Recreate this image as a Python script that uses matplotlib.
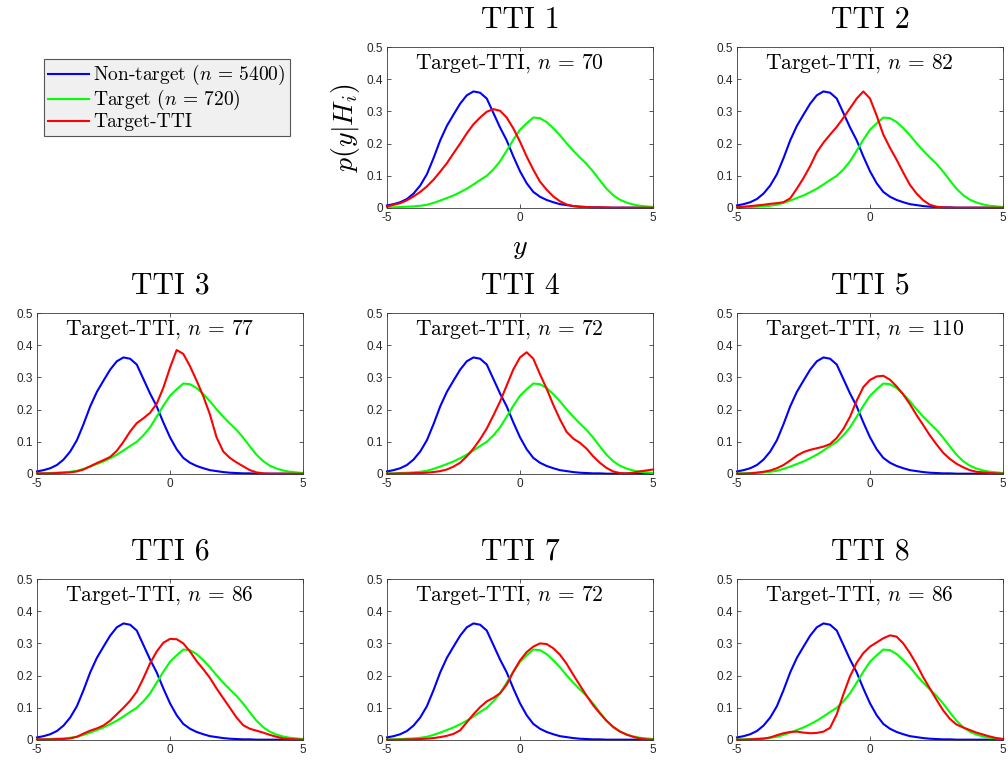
import numpy as np
import matplotlib
matplotlib.use("Agg")
import matplotlib.pyplot as plt
from matplotlib.lines import Line2D

plt.rcParams["mathtext.fontset"] = "cm"
plt.rcParams["font.family"] = ["Liberation Sans", "DejaVu Sans"]
plt.rcParams["axes.unicode_minus"] = False

# classifier output grid
y_grid = np.linspace(-5, 5, 41)

nontarget = [0.008, 0.012, 0.018, 0.028, 0.045, 0.07, 0.105, 0.155, 0.21, 0.255,
             0.29, 0.324, 0.35, 0.362, 0.358, 0.34, 0.295, 0.25, 0.21, 0.16,
             0.114, 0.077, 0.05, 0.035, 0.025, 0.018, 0.012, 0.009, 0.006, 0.004,
             0.003, 0.002, 0.002, 0.001, 0.001, 0.001, 0.001, 0.001, 0.001, 0.001, 0.001]

target = [0.002, 0.002, 0.003, 0.004, 0.005, 0.007, 0.01, 0.016, 0.023, 0.031,
          0.039, 0.049, 0.06, 0.073, 0.087, 0.1, 0.12, 0.145, 0.178, 0.212,
          0.243, 0.263, 0.281, 0.279, 0.267, 0.248, 0.226, 0.201, 0.178, 0.157,
          0.137, 0.113, 0.086, 0.06, 0.04, 0.026, 0.017, 0.011, 0.007, 0.005, 0.003]

tti1 = [0.005, 0.01, 0.015, 0.024, 0.036, 0.05, 0.067, 0.088, 0.113, 0.139,
        0.17, 0.2, 0.232, 0.26, 0.281, 0.299, 0.307, 0.302, 0.281, 0.247,
        0.206, 0.16, 0.119, 0.082, 0.057, 0.036, 0.021, 0.011, 0.006, 0.004,
        0.003, 0.002, 0.002, 0.002, 0.001, 0.001, 0.001, 0.001, 0.001, 0.001, 0.001]

tti2 = [0.002, 0.004, 0.006, 0.008, 0.01, 0.013, 0.015, 0.018, 0.03, 0.06,
        0.093, 0.13, 0.173, 0.203, 0.228, 0.252, 0.28, 0.31, 0.34, 0.362,
        0.34, 0.287, 0.228, 0.187, 0.15, 0.11, 0.072, 0.045, 0.024, 0.01,
        0.004, 0.002, 0.001, 0.001, 0.001, 0.001, 0.001, 0.001, 0.001, 0.001, 0.001]

tti3 = [0.002, 0.002, 0.002, 0.003, 0.004, 0.005, 0.008, 0.014, 0.024, 0.034,
        0.043, 0.053, 0.072, 0.1, 0.132, 0.158, 0.173, 0.19, 0.218, 0.268,
        0.33, 0.385, 0.373, 0.335, 0.29, 0.242, 0.185, 0.114, 0.07, 0.05,
        0.036, 0.024, 0.012, 0.005, 0.002, 0.001, 0.001, 0.001, 0.001, 0.001, 0.001]

tti4 = [0.001, 0.001, 0.002, 0.002, 0.003, 0.003, 0.004, 0.006, 0.009, 0.014,
        0.023, 0.035, 0.055, 0.079, 0.108, 0.141, 0.182, 0.225, 0.275, 0.325,
        0.362, 0.378, 0.358, 0.31, 0.265, 0.215, 0.17, 0.131, 0.11, 0.097,
        0.079, 0.055, 0.035, 0.019, 0.008, 0.003, 0.002, 0.004, 0.008, 0.011, 0.014]

tti5 = [0.001, 0.001, 0.002, 0.004, 0.007, 0.011, 0.018, 0.028, 0.042, 0.057,
        0.068, 0.075, 0.08, 0.085, 0.093, 0.112, 0.14, 0.178, 0.228, 0.27,
        0.292, 0.303, 0.305, 0.293, 0.272, 0.247, 0.217, 0.183, 0.152, 0.12,
        0.092, 0.066, 0.047, 0.032, 0.021, 0.012, 0.007, 0.005, 0.003, 0.002, 0.001]

tti6 = [0.002, 0.002, 0.002, 0.003, 0.003, 0.005, 0.01, 0.02, 0.029, 0.036,
        0.045, 0.06, 0.08, 0.1, 0.122, 0.15, 0.192, 0.238, 0.275, 0.302,
        0.314, 0.313, 0.3, 0.275, 0.245, 0.22, 0.193, 0.16, 0.13, 0.1,
        0.07, 0.046, 0.035, 0.029, 0.023, 0.016, 0.01, 0.005, 0.003, 0.002, 0.001]

tti7 = [0.001, 0.001, 0.001, 0.002, 0.002, 0.003, 0.004, 0.006, 0.009, 0.013,
        0.019, 0.03, 0.055, 0.08, 0.102, 0.12, 0.131, 0.145, 0.172, 0.212,
        0.247, 0.273, 0.29, 0.3, 0.298, 0.285, 0.265, 0.237, 0.203, 0.17,
        0.138, 0.108, 0.083, 0.06, 0.041, 0.027, 0.017, 0.01, 0.005, 0.002, 0.001]

tti8 = [0.001, 0.001, 0.002, 0.003, 0.004, 0.008, 0.015, 0.021, 0.025, 0.026,
        0.023, 0.021, 0.022, 0.026, 0.038, 0.08, 0.142, 0.198, 0.24, 0.27,
        0.29, 0.303, 0.316, 0.325, 0.321, 0.3, 0.27, 0.235, 0.195, 0.16,
        0.125, 0.092, 0.066, 0.048, 0.039, 0.031, 0.023, 0.017, 0.011, 0.006, 0.003]

tti_curves = [tti1, tti2, tti3, tti4, tti5, tti6, tti7, tti8]
tti_counts = [70, 82, 77, 72, 110, 86, 72, 86]
n_nontarget = 5400
n_target = 720

W, H = 1008, 761
fig = plt.figure(figsize=(W / 100, H / 100), dpi=100)

col_left = [37, 387, 737]
row_bottom = [208, 474, 740]
ax_w, ax_h = 266, 161

# panel slots: skip top-left (legend lives there)
slots = [(0, 1), (0, 2), (1, 0), (1, 1), (1, 2), (2, 0), (2, 1), (2, 2)]
axes_col = "#3a3a3a"

for k, (r, c) in enumerate(slots):
    ax = fig.add_axes([col_left[c] / W, (H - row_bottom[r]) / H, ax_w / W, ax_h / H])
    ax.plot(y_grid, nontarget, color=(0, 0, 1), lw=1.5, clip_on=False)
    ax.plot(y_grid, target, color=(0, 1, 0), lw=1.5, clip_on=False)
    ax.plot(y_grid, tti_curves[k], color=(1, 0, 0), lw=1.5, clip_on=False)
    ax.set_xlim(-5, 5)
    ax.set_ylim(0, 0.5)
    ax.set_xticks([-5, 0, 5])
    ax.set_yticks([0, 0.1, 0.2, 0.3, 0.4, 0.5])
    ax.set_yticklabels(["0", "0.1", "0.2", "0.3", "0.4", "0.5"])
    ax.tick_params(direction="in", length=3, width=0.6, top=True, right=True,
                   labelsize=8.5, colors=axes_col, labelcolor="#262626")
    ax.tick_params(axis="x", pad=3)
    ax.tick_params(axis="y", pad=3)
    for s in ax.spines.values():
        s.set_color(axes_col)
        s.set_linewidth(0.6)
    ax.set_title("TTI %d" % (k + 1), fontfamily="cmr10", fontsize=21.5, pad=14)
    ax.text(-3.95, 0.432, r"Target-TTI, $n\,=\,%d$" % tti_counts[k],
            fontfamily="cmr10", fontsize=15.5, ha="left", va="baseline")
    if k == 0:
        ax.set_ylabel(r"$p(y|H_i)$", fontsize=20, labelpad=3)
        ax.set_xlabel(r"$y$", fontsize=20, labelpad=8)

handles = [Line2D([], [], color=(0, 0, 1), lw=1.5),
           Line2D([], [], color=(0, 1, 0), lw=1.5),
           Line2D([], [], color=(1, 0, 0), lw=1.5)]
labels = [r"Non-target ($n\,=\,%d$)" % n_nontarget,
          r"Target ($n\,=\,%d$)" % n_target,
          "Target-TTI"]
leg = fig.legend(handles, labels, loc="upper left",
                 bbox_to_anchor=(44 / W, 1 - 59 / H), borderaxespad=0,
                 prop={"family": "cmr10", "size": 14}, fancybox=False,
                 handlelength=2.1, handletextpad=0.2, labelspacing=0.05,
                 borderpad=0.22, framealpha=1)
leg.get_frame().set_facecolor("#f0f0f0")
leg.get_frame().set_edgecolor("#555555")
leg.get_frame().set_linewidth(0.8)

fig.savefig("out.png", dpi=100)
